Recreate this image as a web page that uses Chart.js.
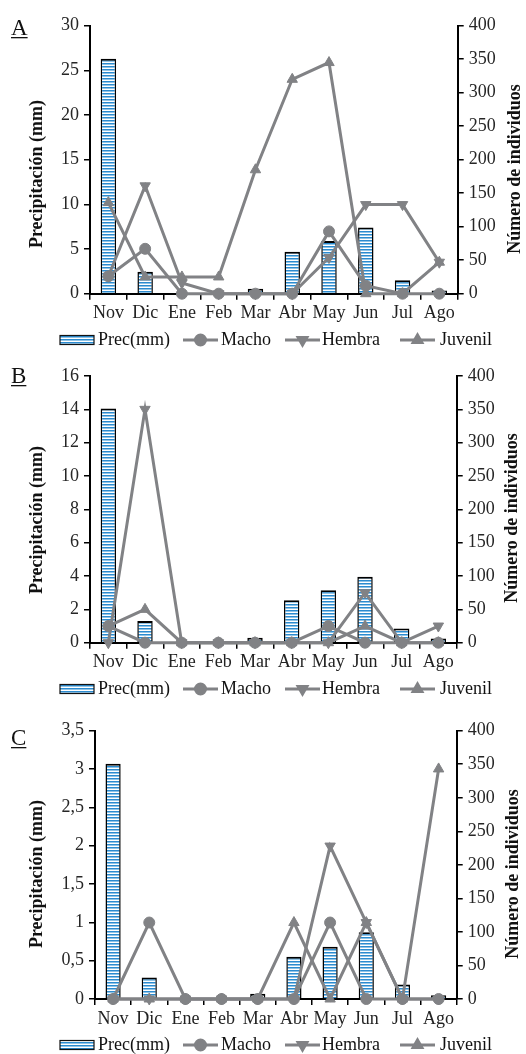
<!DOCTYPE html>
<html>
<head>
<meta charset="utf-8">
<script src="https://cdn.jsdelivr.net/npm/chart.js@4.4.1/dist/chart.umd.min.js"></script>
<style>
  html, body { margin: 0; padding: 0; background: #fff; }
  canvas { position: absolute; left: 0; }
</style>
</head>
<body>
<canvas id="chartA" width="526" height="355" style="top:0px;width:526px;height:355px"></canvas>
<canvas id="chartB" width="526" height="345" style="top:355px;width:526px;height:345px"></canvas>
<canvas id="chartC" width="526" height="354" style="top:700px;width:526px;height:354px"></canvas>
<script>
var months = ['Nov', 'Dic', 'Ene', 'Feb', 'Mar', 'Abr', 'May', 'Jun', 'Jul', 'Ago'];

// panel A
var precA    = [26.3, 2.45, 0, 0, 0.55, 4.7, 5.9, 7.4, 1.5, 0.35];
var machoA   = [26, 67, 0, 0, 0, 0, 93, 12, 0, 0];
var hembraA  = [26, 161, 16, 0, 0, 0, 54, 133, 133, 47];
var juvenilA = [136, 25, 25, 25, 185, 320, 345, 0, 0, 47];

// panel B
var precB    = [14.05, 1.3, 0, 0, 0.3, 2.55, 3.15, 3.95, 0.85, 0.25];
var machoB   = [25, 0, 0, 0, 0, 0, 25, 0, 0, 0];
var hembraB  = [0, 350, 0, 0, 0, 0, 0, 75, 0, 25];
var juvenilB = [25, 50, 0, 0, 0, 0, 0, 25, 0, 0];

// panel C
var precC    = [3.07, 0.28, 0, 0, 0.07, 0.55, 0.68, 0.87, 0.19, 0.05];
var machoC   = [0, 114, 0, 0, 0, 0, 114, 0, 0, 0];
var hembraC  = [0, 0, 0, 0, 0, 0, 228, 114, 0, 0];
var juvenilC = [0, 0, 0, 0, 0, 114, 0, 114, 0, 343];

var legendLabels = ['Prec(mm)', 'Macho', 'Hembra', 'Juvenil'];
var leftTitle = 'Precipitación (mm)';
var rightTitle = 'Número de individuos';

var FONT = '"Liberation Serif", "Times New Roman", serif';
var GRAY = '#818285';

function stripes() {
    var c = document.createElement('canvas');
    c.width = 4; c.height = 3;
    var g = c.getContext('2d');
    g.fillStyle = '#2b8bd0'; g.fillRect(0, 0, 4, 1);
    g.fillStyle = '#8fc3e6'; g.fillRect(0, 1, 4, 1);
    g.fillStyle = '#ffffff'; g.fillRect(0, 2, 4, 1);
    return g.createPattern(c, 'repeat');
}
var barFill = stripes();

function lineSet(label, data, style, rot) {
    return {
        type: 'line',
        label: label,
        data: data,
        yAxisID: 'y1',
        borderColor: GRAY,
        backgroundColor: GRAY,
        borderWidth: 3,
        pointStyle: style,
        pointRotation: rot,
        pointRadius: style === 'circle' ? 5.5 : 6,
        pointBorderWidth: 1,
        tension: 0,
        clip: false,
        order: 0
    };
}

// titles, panel letter and legend
var decor = {
    id: 'decor',
    afterDraw: function (chart) {
        var p = chart.options.plugins.decor;
        var ctx = chart.ctx;
        ctx.save();
        ctx.fillStyle = '#111';
        ctx.font = '23px ' + FONT;
        ctx.textBaseline = 'alphabetic';
        ctx.fillText(p.letter, 11, p.letterY);
        var w = ctx.measureText(p.letter).width;
        ctx.fillRect(11, p.letterY + 2, w, 1.3);

        ctx.font = 'bold 18px ' + FONT;
        ctx.textAlign = 'center';
        ctx.textBaseline = 'middle';
        ctx.save();
        ctx.translate(37, p.titleY);
        ctx.rotate(-Math.PI / 2);
        ctx.fillText(leftTitle, 0, 0);
        ctx.restore();
        ctx.save();
        ctx.translate(p.titleRX, p.titleRY);
        ctx.rotate(-Math.PI / 2);
        ctx.fillText(rightTitle, 0, 0);
        ctx.restore();

        // legend
        var y = p.legendY;
        ctx.font = '18px ' + FONT;
        ctx.textAlign = 'left';
        ctx.fillStyle = barFill;
        ctx.fillRect(60, y - 4.5, 34, 9);
        ctx.strokeStyle = '#111';
        ctx.lineWidth = 1.2;
        ctx.strokeRect(60, y - 4.5, 34, 9);
        ctx.fillStyle = '#111';
        ctx.fillText(legendLabels[0], 98, y);

        var marks = [['circle', 0, 183, 221], ['triangle', 180, 285, 322], ['triangle', 0, 400, 440]];
        marks.forEach(function (m, i) {
            ctx.strokeStyle = GRAY;
            ctx.lineWidth = 3;
            ctx.beginPath();
            ctx.moveTo(m[2], y);
            ctx.lineTo(m[2] + 35, y);
            ctx.stroke();
            ctx.fillStyle = GRAY;
            Chart.helpers.drawPoint(ctx, {pointStyle: m[0], rotation: m[1], radius: 5, borderWidth: 1}, m[2] + 17.5, y);
            ctx.fillStyle = '#111';
            ctx.fillText(legendLabels[i + 1], m[3], y);
        });
        ctx.restore();
    }
};

function makePanel(id, prec, macho, hembra, juvenil, o) {
    var H = document.getElementById(id).height;
    var W = 526;
    new Chart(document.getElementById(id), {
        type: 'bar',
        data: {
            labels: months,
            datasets: [
                lineSet(legendLabels[1], macho, 'circle', 0),
                lineSet(legendLabels[2], hembra, 'triangle', 180),
                lineSet(legendLabels[3], juvenil, 'triangle', 0),
                {
                    type: 'bar',
                    label: legendLabels[0],
                    data: prec,
                    yAxisID: 'y',
                    backgroundColor: barFill,
                    borderColor: '#000',
                    borderWidth: {top: 2, left: 1.5, right: 1.5, bottom: 0},
                    borderSkipped: false,
                    barPercentage: 0.42,
                    categoryPercentage: 1,
                    order: 1
                }
            ]
        },
        options: {
            responsive: false,
            animation: false,
            events: [],
            layout: {padding: {top: o.top, left: 0, right: 0, bottom: 0}},
            plugins: {
                legend: {display: false},
                tooltip: {enabled: false},
                decor: o
            },
            scales: {
                x: {
                    offset: true,
                    grid: {offset: true, drawOnChartArea: false, color: '#000', lineWidth: 1.5, tickLength: 6},
                    border: {color: '#000', width: 2},
                    ticks: {color: '#222', font: {family: FONT, size: 18}, padding: 3, maxRotation: 0},
                    afterFit: function (s) { s.height = H - o.bottom; }
                },
                y: {
                    position: 'left',
                    min: 0,
                    max: o.leftMax,
                    grid: {drawOnChartArea: false, color: '#000', lineWidth: 1.5, tickLength: 6},
                    border: {color: '#000', width: 2},
                    ticks: {
                        stepSize: o.leftStep,
                        color: '#262626',
                        font: {family: FONT, size: 18},
                        padding: 5,
                        callback: function (v) { return String(v).replace('.', ','); }
                    },
                    afterFit: function (s) { s.width = o.left; }
                },
                y1: {
                    position: 'right',
                    min: 0,
                    max: 400,
                    grid: {drawOnChartArea: false, color: '#000', lineWidth: 1.5, tickLength: 6},
                    border: {color: '#000', width: 2},
                    ticks: {stepSize: 50, color: '#262626', font: {family: FONT, size: 18}, padding: 5},
                    afterFit: function (s) { s.width = W - o.right; }
                }
            }
        },
        plugins: [decor]
    });
}

makePanel('chartA', precA, machoA, hembraA, juvenilA, {
    leftMax: 30, leftStep: 5, letter: 'A', letterY: 35,
    top: 25.7, bottom: 293.7, left: 90, right: 457.7,
    legendY: 340, titleY: 174, titleRX: 515, titleRY: 169
});
makePanel('chartB', precB, machoB, hembraB, juvenilB, {
    leftMax: 16, leftStep: 2, letter: 'B', letterY: 28,
    top: 21, bottom: 287.7, left: 90, right: 456.7,
    legendY: 334, titleY: 165, titleRX: 512, titleRY: 163
});
makePanel('chartC', precC, machoC, hembraC, juvenilC, {
    leftMax: 3.5, leftStep: 0.5, letter: 'C', letterY: 45,
    top: 30.7, bottom: 299, left: 95, right: 456.7,
    legendY: 345, titleY: 174, titleRX: 513, titleRY: 174
});
</script>
</body>
</html>
